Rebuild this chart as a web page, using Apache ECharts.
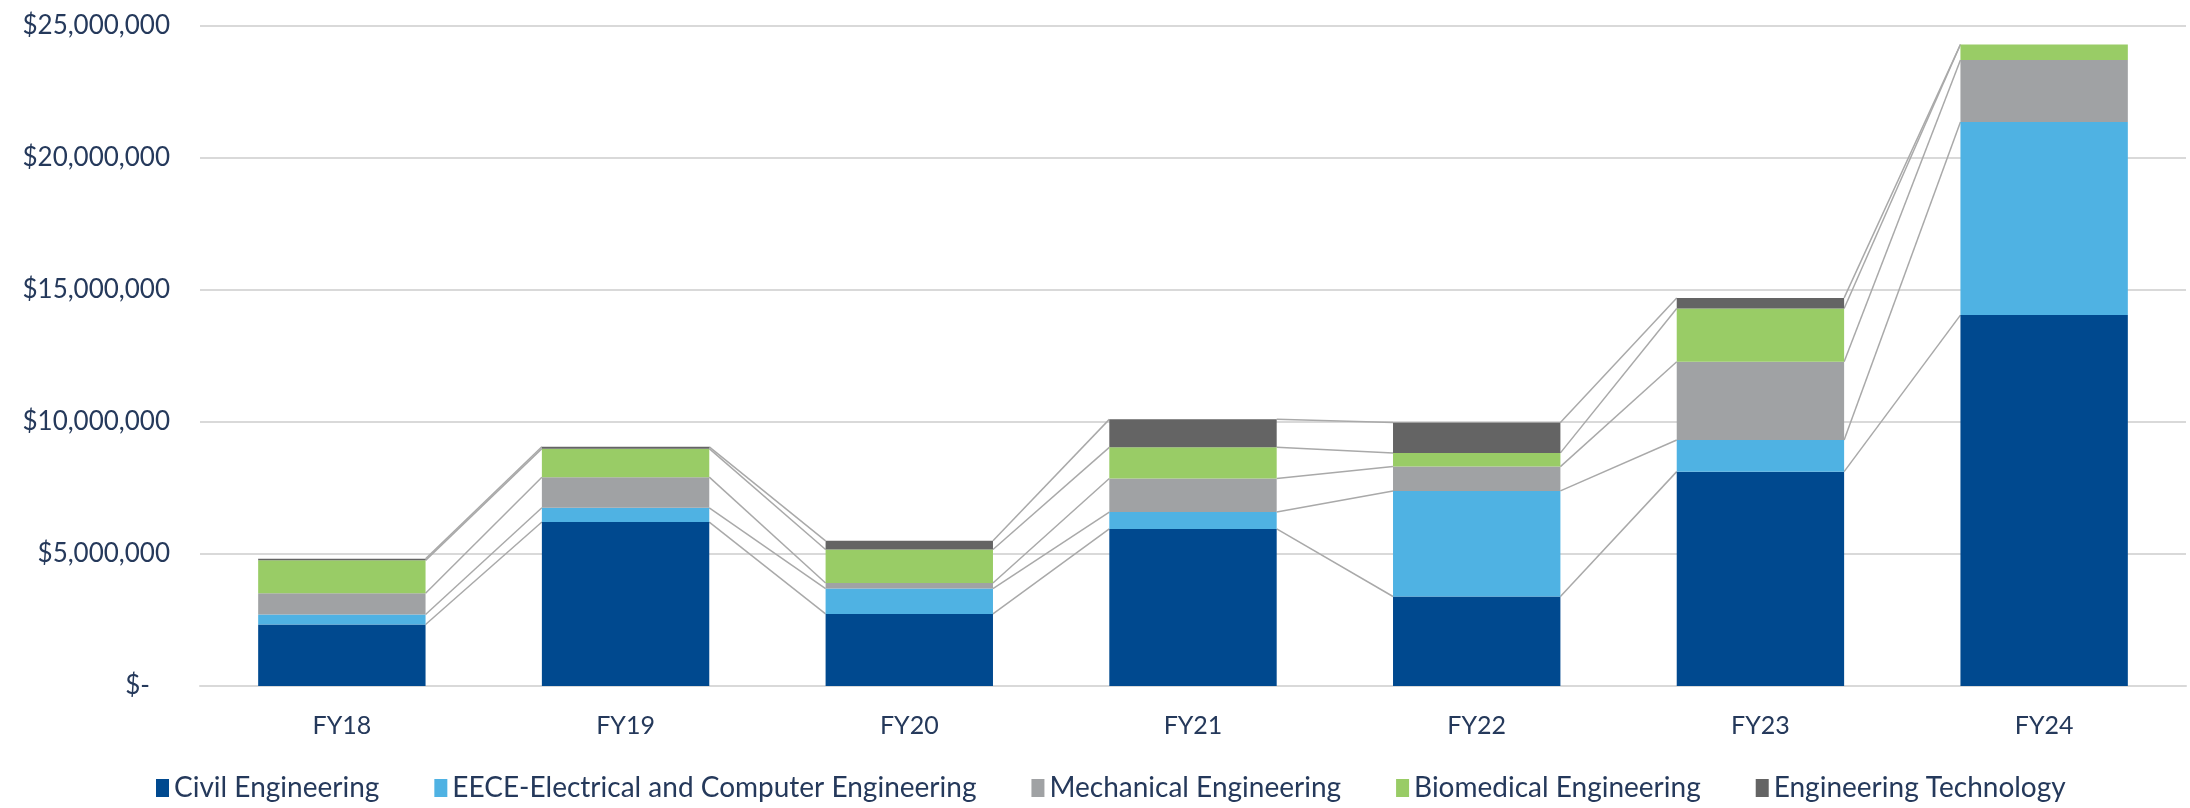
<!DOCTYPE html>
<html>
<head>
<meta charset="utf-8">
<script src="https://cdn.jsdelivr.net/npm/echarts@6/dist/echarts.min.js"></script>
<style>
  html, body { margin: 0; padding: 0; background: #fff; }
  #main { width: 2190px; height: 808px; }
</style>
</head>
<body>
<div id="main"></div>
<script>
// fiscal years on the x axis
const years = ["FY18", "FY19", "FY20", "FY21", "FY22", "FY23", "FY24"];

// funding per department, in dollars
const civil      = [2330000, 6210000, 2730000, 5950000, 3390000, 8120000, 14050000];
const eece       = [380000, 540000, 960000, 640000, 4000000, 1200000, 7310000];
const mechanical = [800000, 1160000, 210000, 1270000, 920000, 2960000, 2350000];
const biomedical = [1250000, 1080000, 1270000, 1180000, 520000, 2020000, 590000];
const technology = [60000, 70000, 330000, 1060000, 1150000, 400000, 0];

const names = [
  "Civil Engineering",
  "EECE-Electrical and Computer Engineering",
  "Mechanical Engineering",
  "Biomedical Engineering",
  "Engineering Technology"
];
const colors = ["#00498f", "#4fb2e3", "#a0a2a4", "#99cc66", "#646464"];
const textColor = "#25395b";
const font = "Lato";
const barRatio = 0.59;

var myChart = echarts.init(document.getElementById("main"));

// running totals, used for the series lines between columns
const layers = [civil, eece, mechanical, biomedical, technology];
const tops = [];
var run = years.map(() => 0);
layers.forEach(function(arr) {
  run = run.map((v, i) => v + arr[i]);
  tops.push(run.slice());
});

function moneyLabel(v) {
  if (v === 0) return "$-   ";
  return "$" + v.toLocaleString("en-US");
}

const barSeries = layers.map(function(arr, k) {
  return {
    name: names[k],
    type: "bar",
    stack: "total",
    data: arr,
    barWidth: (barRatio * 100) + "%",
    itemStyle: { color: colors[k] },
    z: 3
  };
});

// Excel style "series lines" joining the tops of each segment
const seriesLines = {
  name: "lines",
  type: "custom",
  silent: true,
  z: 2,
  data: years.slice(0, -1).map((y, i) => [i, 0]),
  encode: { x: 0, y: 1 },
  renderItem: function(params, api) {
    var i = api.value(0);
    var half = api.size([1, 0])[0] * barRatio / 2;
    var children = [];
    for (var k = 0; k < tops.length; k++) {
      var a = api.coord([i, tops[k][i]]);
      var b = api.coord([i + 1, tops[k][i + 1]]);
      children.push({
        type: "line",
        shape: { x1: a[0] + half, y1: a[1], x2: b[0] - half, y2: b[1] },
        style: { stroke: "#a9a9a9", lineWidth: 1.5 }
      });
    }
    return { type: "group", children: children };
  }
};

myChart.setOption({
  animation: false,
  grid: { left: 200, right: 4, top: 26, bottom: 122 },
  legend: {
    data: names,
    left: 151,
    top: 769,
    icon: "rect",
    itemWidth: 13,
    itemHeight: 18,
    itemGap: 55,
    textStyle: { color: textColor, fontFamily: font, fontSize: 28 }
  },
  xAxis: {
    type: "category",
    data: years,
    axisLine: { lineStyle: { color: "#d9d9d9", width: 2 } },
    axisTick: { show: false },
    axisLabel: { color: textColor, fontFamily: font, fontSize: 25, margin: 27 }
  },
  yAxis: {
    type: "value",
    min: 0,
    max: 25000000,
    interval: 5000000,
    axisLabel: {
      color: textColor,
      fontFamily: font,
      fontSize: 26,
      margin: 30,
      formatter: moneyLabel
    },
    splitLine: { lineStyle: { color: "#d9d9d9", width: 2 } }
  },
  series: barSeries.concat([seriesLines])
});
</script>
</body>
</html>
